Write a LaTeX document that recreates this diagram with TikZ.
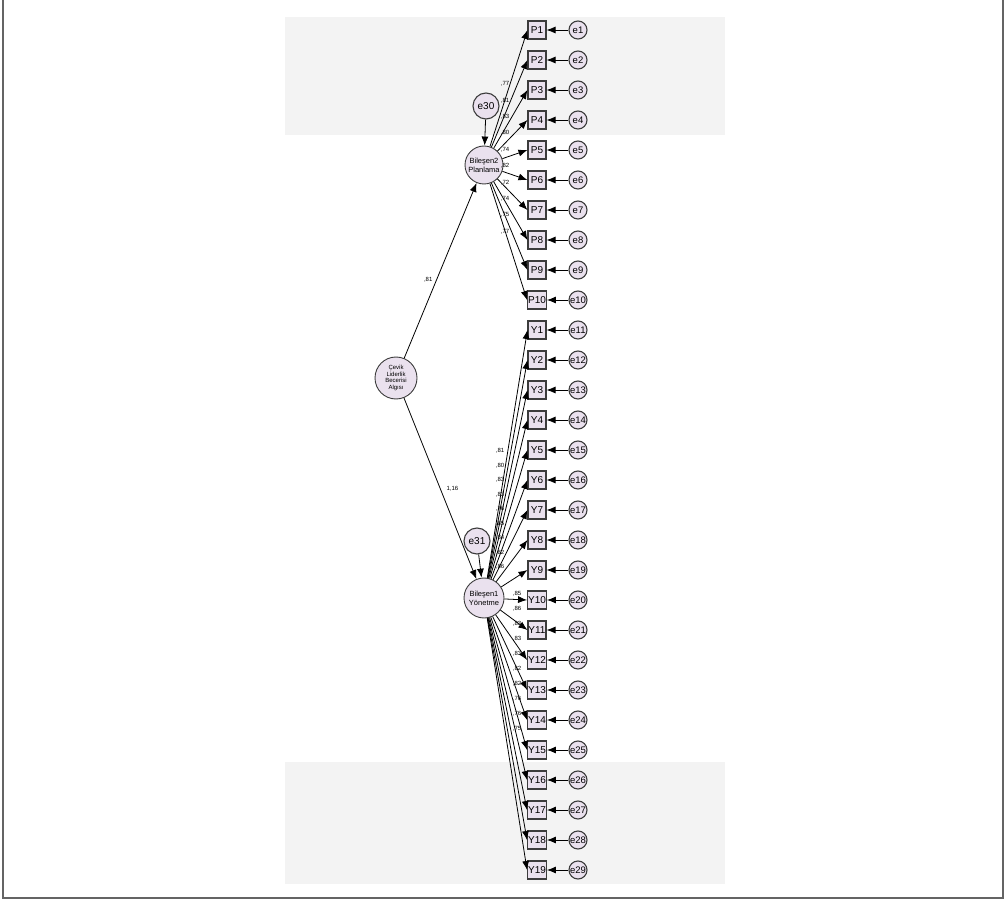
\documentclass[tikz,border=0pt]{standalone}
\usepackage{fontspec}
\setmainfont{Liberation Sans}
\usetikzlibrary{arrows.meta}

\definecolor{nodefill}{RGB}{234,225,238}
\definecolor{panelgray}{RGB}{243,243,243}
\definecolor{linegray}{RGB}{60,60,60}
\definecolor{framegray}{RGB}{100,100,100}

\tikzset{
  obs/.style={draw=linegray, line width=1.1pt, fill=nodefill, minimum width=18pt, minimum height=18pt, inner sep=0.5pt, font=\fontsize{10}{10}\selectfont},
  err/.style={draw=linegray, line width=1.1pt, circle, fill=nodefill, minimum size=18pt, inner sep=0pt, font=\fontsize{9.5}{9.5}\selectfont},
  lat/.style={draw=linegray, line width=0.9pt, circle, fill=nodefill, align=center, inner sep=0pt},
  coef/.style={font=\fontsize{6}{6}\selectfont, inner sep=0pt},
  link/.style={draw=black, line width=0.8pt, -{Latex[length=9pt,width=7pt]}},
}

\begin{document}
\begin{tikzpicture}[x=1pt, y=-1pt]

    % --- Canvas ---
    \useasboundingbox (0,0) rectangle (1007,901);
    \fill[panelgray] (285,17) rectangle (725,135);
    \fill[panelgray] (285,762) rectangle (725,884);
    \draw[framegray, line width=1.2pt] (3,0) -- (3,898) -- (1003,898) -- (1003,0);

    % --- Latent variables ---
    \node[lat, minimum size=42pt, font=\fontsize{6}{6.5}\selectfont] (cla) at (396,378) {Çevik\\Liderlik\\Becerisi\\Algısı};
    \node[lat, minimum size=38pt, font=\fontsize{7.5}{9}\selectfont] (b2) at (484,165) {Bileşen2\\Planlama};
    \node[lat, minimum size=40pt, font=\fontsize{7.5}{9}\selectfont] (b1) at (484,598) {Bileşen1\\Yönetme};
    \node[err, minimum size=26pt, font=\fontsize{10}{10}\selectfont] (e30) at (486,106) {e30};
    \node[err, minimum size=26pt, font=\fontsize{10}{10}\selectfont] (e31) at (477,541) {e31};

    \draw[link] (cla) -- (b2) node[coef, pos=0.45, left=4pt] {,81};
    \draw[link] (cla) -- (b1) node[coef, pos=0.5, right=6pt] {1,16};
    \draw[link] (e30) -- (b2);
    \draw[link] (e31) -- (b1);

    % --- Planlama items ---
    \foreach \i in {1,...,10} {
        \node[obs] (P\i) at (537,30*\i) {P\i};
        \node[err] (e\i) at (578,30*\i) {e\i};
        \draw[link] (e\i) -- (P\i);
        \draw[link] (b2) -- (P\i.west);
    }

    % --- Yonetme items ---
    \foreach \j in {1,...,19} {
        \pgfmathtruncatemacro{\k}{10+\j}
        \node[obs] (Y\j) at (537,300+30*\j) {Y\j};
        \node[err] (e\k) at (578,300+30*\j) {e\k};
        \draw[link] (e\k) -- (Y\j);
        \draw[link] (b1) -- (Y\j.west);
    }

    % --- Loadings ---
    \foreach \i/\v in {1/77,2/81,3/83,4/80,5/74,6/82,7/72,8/74,9/75,10/77}
        \node[coef] (lp\i) at (505,{84+16.4*(\i-1)}) {,\v};
    \foreach \j/\v in {1/81,2/80,3/83,4/83,5/76,6/85,7/84,8/82,9/86}
        \node[coef] (ly\j) at (500,{451+14.5*(\j-1)}) {,\v};
    \foreach \j/\v in {10/85,11/86,12/83,13/83,14/83,15/82,16/82,17/76,18/76,19/75}
        \node[coef] (ly\j) at (517,{594+15*(\j-10)}) {,\v};

\end{tikzpicture}
\end{document}
